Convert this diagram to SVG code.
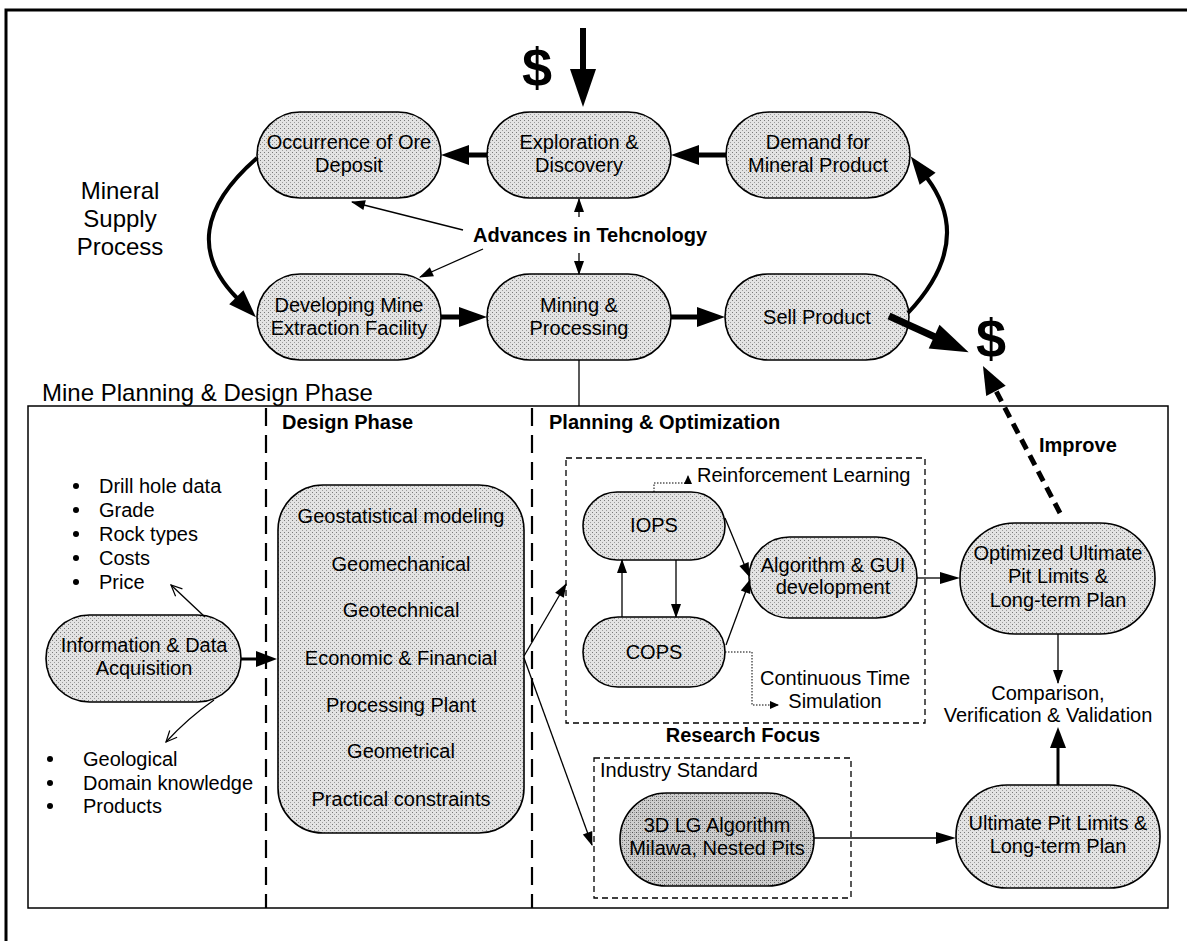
<svg xmlns="http://www.w3.org/2000/svg" width="1187" height="941" viewBox="0 0 1187 941">
  <defs>
    <!-- halftone-like fill used by the process nodes -->
    <pattern id="stip" width="4" height="4" patternUnits="userSpaceOnUse">
      <rect width="4" height="4" fill="#e3e3e3"/>
      <rect x="0" y="0" width="1" height="1" fill="#7a7a7a"/>
      <rect x="2" y="2" width="1" height="1" fill="#9c9c9c"/>
    </pattern>
    <pattern id="stipDark" width="4" height="4" patternUnits="userSpaceOnUse">
      <rect width="4" height="4" fill="#cdcdcd"/>
      <rect x="0" y="0" width="1" height="1" fill="#555"/>
      <rect x="2" y="2" width="1" height="1" fill="#777"/>
      <rect x="2" y="0" width="1" height="1" fill="#999"/>
    </pattern>
    <marker id="hThick" markerUnits="userSpaceOnUse" markerWidth="28" markerHeight="20" refX="1" refY="10" orient="auto" overflow="visible">
      <path d="M0,0 L28,10 L0,20 z" fill="#000"/>
    </marker>
    <marker id="hBig" markerUnits="userSpaceOnUse" markerWidth="38" markerHeight="26" refX="1" refY="13" orient="auto" overflow="visible">
      <path d="M0,0 L38,13 L0,26 z" fill="#000"/>
    </marker>
    <marker id="hImp" markerUnits="userSpaceOnUse" markerWidth="28" markerHeight="22" refX="1" refY="11" orient="auto" overflow="visible">
      <path d="M0,0 L28,11 L0,22 z" fill="#000"/>
    </marker>
    <marker id="hMed" markerUnits="userSpaceOnUse" markerWidth="21" markerHeight="16" refX="1" refY="8" orient="auto" overflow="visible">
      <path d="M0,0 L21,8 L0,16 z" fill="#000"/>
    </marker>
    <marker id="hMed2" markerUnits="userSpaceOnUse" markerWidth="20" markerHeight="12" refX="1" refY="6" orient="auto" overflow="visible">
      <path d="M0,0 L20,6 L0,12 z" fill="#000"/>
    </marker>
    <marker id="hThin" markerUnits="userSpaceOnUse" markerWidth="14" markerHeight="10" refX="13" refY="5" orient="auto" overflow="visible">
      <path d="M0,0 L14,5 L0,10 z" fill="#000"/>
    </marker>
    <marker id="hOpen" markerUnits="userSpaceOnUse" markerWidth="12" markerHeight="10" refX="11" refY="5" orient="auto" overflow="visible">
      <path d="M0,0 L11,5 L0,10" fill="none" stroke="#000" stroke-width="1.2"/>
    </marker>
    <marker id="hTiny" markerUnits="userSpaceOnUse" markerWidth="9" markerHeight="8" refX="8" refY="4" orient="auto" overflow="visible">
      <path d="M0,0 L9,4 L0,8 z" fill="#000"/>
    </marker>
  </defs>
  <style>
    text { font-family: "Liberation Sans", Arial, sans-serif; fill: #000; }
    .t { font-size: 20px; text-anchor: middle; }
    .tl { font-size: 20px; }
    .b { font-size: 20px; font-weight: bold; }
    .big { font-size: 24px; }
    .dollar { font-size: 54px; font-weight: bold; text-anchor: middle; }
    .node { fill: url(#stip); stroke: #000; stroke-width: 1.6; }
    .nodeDark { fill: url(#stipDark); stroke: #000; stroke-width: 1.6; }
    .thick { fill: none; stroke: #000; stroke-width: 5; }
    .curve { fill: none; stroke: #000; stroke-width: 4; }
    .thin { fill: none; stroke: #000; stroke-width: 1.3; }
    .dotted { fill: none; stroke: #000; stroke-width: 1; stroke-dasharray: 1.5 1.5; }
    .dashBox { fill: none; stroke: #000; stroke-width: 1.3; stroke-dasharray: 6 4; }
    .divider { fill: none; stroke: #000; stroke-width: 2.2; stroke-dasharray: 18 9; }
  </style>

  <rect width="1187" height="941" fill="#fff"/>

  <!-- page frame -->
  <path d="M6,941 V10 H1187" fill="none" stroke="#000" stroke-width="3"/>

  <!-- section captions -->
  <g id="caption-supply">
    <text class="big" x="120" y="199" text-anchor="middle">Mineral</text>
    <text class="big" x="120" y="227" text-anchor="middle">Supply</text>
    <text class="big" x="120" y="255" text-anchor="middle">Process</text>
  </g>
  <text class="big" x="42" y="401">Mine Planning &amp; Design Phase</text>

  <!-- planning frame and column dividers -->
  <rect x="28" y="406" width="1140" height="502" fill="none" stroke="#000" stroke-width="1.5"/>
  <path class="divider" d="M266,408 V908"/>
  <path class="divider" d="M532,408 V908"/>
  <text class="b" x="282" y="429">Design Phase</text>
  <text class="b" x="549" y="429">Planning &amp; Optimization</text>

  <!-- research / industry groupings -->
  <rect class="dashBox" x="566" y="458" width="359" height="265"/>
  <text class="b" x="743" y="742" text-anchor="middle">Research Focus</text>
  <rect class="dashBox" x="594" y="758" width="257" height="140"/>
  <text class="tl" x="600" y="777">Industry Standard</text>

  <!-- money labels -->
  <text class="dollar" x="537" y="86">$</text>
  <text class="dollar" x="991" y="357">$</text>

  <!-- supply cycle nodes -->
  <g id="n-occurrence">
    <rect class="node" x="257" y="112" width="184" height="86" rx="43"/>
    <text class="t" x="349" y="149">Occurrence of Ore</text>
    <text class="t" x="349" y="172">Deposit</text>
  </g>
  <g id="n-exploration">
    <rect class="node" x="487" y="112" width="184" height="86" rx="43"/>
    <text class="t" x="579" y="149">Exploration &amp;</text>
    <text class="t" x="579" y="172">Discovery</text>
  </g>
  <g id="n-demand">
    <rect class="node" x="726" y="112" width="184" height="86" rx="43"/>
    <text class="t" x="818" y="149">Demand for</text>
    <text class="t" x="818" y="172">Mineral Product</text>
  </g>
  <g id="n-developing">
    <rect class="node" x="257" y="274" width="184" height="86" rx="43"/>
    <text class="t" x="349" y="312">Developing Mine</text>
    <text class="t" x="349" y="335">Extraction Facility</text>
  </g>
  <g id="n-mining">
    <rect class="node" x="487" y="274" width="184" height="86" rx="43"/>
    <text class="t" x="579" y="312">Mining &amp;</text>
    <text class="t" x="579" y="335">Processing</text>
  </g>
  <g id="n-sell">
    <rect class="node" x="725" y="274" width="184" height="86" rx="43"/>
    <text class="t" x="817" y="324">Sell Product</text>
  </g>
  <g id="n-advances">
    <text class="b" x="473" y="242">Advances in Tehcnology</text>
  </g>

  <!-- planning nodes -->
  <g id="n-info">
    <rect class="node" x="46" y="615" width="195" height="87" rx="43.5"/>
    <text class="t" x="144" y="652">Information &amp; Data</text>
    <text class="t" x="144" y="675">Acquisition</text>
  </g>
  <g id="n-inputs">
    <circle cx="76" cy="486" r="3"/>
    <circle cx="76" cy="510" r="3"/>
    <circle cx="76" cy="534" r="3"/>
    <circle cx="76" cy="558" r="3"/>
    <circle cx="76" cy="582" r="3"/>
    <text class="tl" x="99" y="493">Drill hole data</text>
    <text class="tl" x="99" y="517">Grade</text>
    <text class="tl" x="99" y="541">Rock types</text>
    <text class="tl" x="99" y="565">Costs</text>
    <text class="tl" x="99" y="589">Price</text>
  </g>
  <g id="n-knowledge">
    <circle cx="50" cy="759" r="3"/>
    <circle cx="50" cy="783" r="3"/>
    <circle cx="50" cy="806" r="3"/>
    <text class="tl" x="83" y="766">Geological</text>
    <text class="tl" x="83" y="790">Domain knowledge</text>
    <text class="tl" x="83" y="813">Products</text>
  </g>
  <g id="n-design">
    <rect class="node" x="278" y="485" width="246" height="348" rx="45"/>
    <text class="t" x="401" y="523">Geostatistical modeling</text>
    <text class="t" x="401" y="571">Geomechanical</text>
    <text class="t" x="401" y="617">Geotechnical</text>
    <text class="t" x="401" y="665">Economic &amp; Financial</text>
    <text class="t" x="401" y="712">Processing Plant</text>
    <text class="t" x="401" y="758">Geometrical</text>
    <text class="t" x="401" y="806">Practical constraints</text>
  </g>
  <g id="n-iops">
    <rect class="node" x="583" y="492" width="142" height="68" rx="34"/>
    <text class="t" x="654" y="532">IOPS</text>
  </g>
  <g id="n-cops">
    <rect class="node" x="583" y="617" width="142" height="70" rx="35"/>
    <text class="t" x="654" y="659">COPS</text>
  </g>
  <g id="n-rl">
    <text class="tl" x="697" y="482">Reinforcement Learning</text>
  </g>
  <g id="n-cts">
    <text class="t" x="835" y="685">Continuous Time</text>
    <text class="t" x="835" y="708">Simulation</text>
  </g>
  <g id="n-algorithm">
    <rect class="node" x="749" y="537" width="168" height="81" rx="40.5"/>
    <text class="t" x="833" y="572">Algorithm &amp; GUI</text>
    <text class="t" x="833" y="594">development</text>
  </g>
  <g id="n-lg">
    <rect class="nodeDark" x="620" y="793" width="194" height="93" rx="46.5"/>
    <text class="t" x="717" y="832">3D LG Algorithm</text>
    <text class="t" x="717" y="855">Milawa, Nested Pits</text>
  </g>
  <g id="n-optimized">
    <rect class="node" x="960" y="523" width="195" height="111" rx="55"/>
    <text class="t" x="1058" y="560">Optimized Ultimate</text>
    <text class="t" x="1058" y="583">Pit Limits &amp;</text>
    <text class="t" x="1058" y="607">Long-term Plan</text>
  </g>
  <g id="n-ultimate">
    <rect class="node" x="956" y="785" width="204" height="103" rx="51"/>
    <text class="t" x="1058" y="830">Ultimate Pit Limits &amp;</text>
    <text class="t" x="1058" y="853">Long-term Plan</text>
  </g>
  <g id="n-comparison">
    <text class="t" x="1048" y="700">Comparison,</text>
    <text class="t" x="1048" y="722">Verification &amp; Validation</text>
  </g>
  <g id="n-improve">
    <text class="b" x="1039" y="452">Improve</text>
  </g>

  <!-- connectors -->
  <g id="connectors">
    <!-- supply cycle -->
    <path class="thick" d="M487,155 H468" marker-end="url(#hThick)"/>
    <path class="thick" d="M726,155 H698" marker-end="url(#hThick)"/>
    <path class="thick" d="M441,317 H460" marker-end="url(#hThick)"/>
    <path class="thick" d="M671,317 H698" marker-end="url(#hThick)"/>
    <path class="curve" d="M257,158 Q172,232 237,298" marker-end="url(#hThick)"/>
    <path class="curve" d="M908,313 Q975,242 927,178" marker-end="url(#hThick)"/>
    <!-- money flow -->
    <path fill="none" stroke="#000" stroke-width="6" d="M583,28 V70" marker-end="url(#hBig)"/>
    <path fill="none" stroke="#000" stroke-width="7" d="M889,316 L935,337" marker-end="url(#hBig)"/>
    <!-- technology influences -->
    <path class="thin" d="M463,230 L352,202" marker-end="url(#hThin)"/>
    <path class="thin" d="M483,249 L420,277" marker-end="url(#hThin)"/>
    <path class="thin" d="M579,217 V199" marker-end="url(#hThin)"/>
    <path class="thin" d="M579,253 V274" marker-end="url(#hThin)"/>
    <!-- link to planning phase -->
    <path class="thin" d="M579,360 V406"/>
    <!-- data acquisition -->
    <path class="thin" d="M205,617 L171,585" marker-end="url(#hOpen)"/>
    <path class="thin" d="M214,700 Q188,718 166,742" marker-end="url(#hOpen)"/>
    <path fill="none" stroke="#000" stroke-width="3" d="M241,659 H257" marker-end="url(#hMed)"/>
    <!-- design to optimisation -->
    <path class="thin" d="M524,656 L566,584" marker-end="url(#hThin)"/>
    <path class="thin" d="M524,658 L592,845" marker-end="url(#hThin)"/>
    <!-- research focus -->
    <path class="thin" d="M676,560 V617" marker-end="url(#hThin)"/>
    <path class="thin" d="M622,617 V560" marker-end="url(#hThin)"/>
    <path class="thin" d="M725,518 L749,576" marker-end="url(#hThin)"/>
    <path class="thin" d="M726,645 L750,580" marker-end="url(#hThin)"/>
    <path class="dotted" d="M654,492 V483 H688 V476" marker-end="url(#hTiny)"/>
    <path class="dotted" d="M725,652 H752 V705 H778" marker-end="url(#hTiny)"/>
    <path class="thin" d="M917,578 H941" marker-end="url(#hMed2)"/>
    <!-- results -->
    <path class="thin" d="M1058,634 V683" marker-end="url(#hThin)"/>
    <path fill="none" stroke="#000" stroke-width="1.5" d="M814,838 H937" marker-end="url(#hMed2)"/>
    <path fill="none" stroke="#000" stroke-width="3" d="M1058,785 V747" marker-end="url(#hMed)"/>
    <path fill="none" stroke="#000" stroke-width="5" stroke-dasharray="11 7" d="M1060,513 L995.5,390" marker-end="url(#hImp)"/>
  </g>
</svg>
